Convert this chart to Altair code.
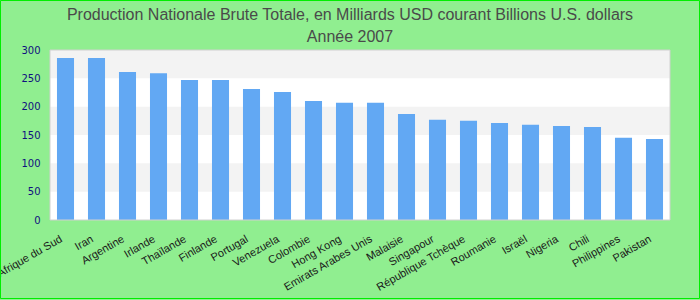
import altair as alt
import pandas as pd

countries = ["Afrique du Sud", "Iran", "Argentine", "Irlande", "Thaïlande", "Finlande",
             "Portugal", "Venezuela", "Colombie", "Hong Kong", "Emirats Arabes Unis",
             "Malaisie", "Singapour", "République Tchèque", "Roumanie", "Israël",
             "Nigeria", "Chili", "Philippines", "Pakistan"]
gnp = [286, 286, 261, 259, 247, 247, 231, 226, 210, 207, 207, 187, 177, 175, 171, 168,
       166, 164, 145, 143]

band_lo = [250, 150, 50]
band_hi = [300, 200, 100]
y_ticks = [0, 50, 100, 150, 200, 250, 300]

title_lines = ["Production Nationale Brute Totale, en Milliards USD courant Billions U.S. dollars",
               "Année 2007"]

df = pd.DataFrame({"pays": countries, "valeur": gnp})
bands = pd.DataFrame({"lo": band_lo, "hi": band_hi})

yscale = alt.Scale(domain=[0, 300], nice=False)
yaxis = alt.Axis(values=y_ticks, grid=False, ticks=False, domain=False,
                 labelFont="DejaVu Sans", labelFontSize=10, labelOverlap=False,
                 labelColor="#10107f", labelPadding=10, title=None)

stripes = alt.Chart(bands).mark_rect(color="#f3f3f3").encode(
    y=alt.Y("lo:Q", scale=yscale, axis=yaxis, title=None),
    y2="hi:Q",
)

bars = alt.Chart(df).mark_bar(color="#62a8f3").encode(
    x=alt.X("pays:N", sort=None, title=None,
            scale=alt.Scale(paddingInner=0.45, paddingOuter=0.225),
            axis=alt.Axis(labelAngle=-30, labelAlign="right", labelBaseline="middle",
                          labelPadding=18, labelOffset=-4, ticks=False, domain=False,
                          labelFont="Liberation Sans", labelFontSize=11,
                          labelColor="#1a1a1a", labelOverlap=False, labelLimit=0)),
    y=alt.Y("valeur:Q", scale=yscale, title=None, axis=yaxis),
)

one = alt.Data(values=[{"k": 1}])

plot_border = alt.Chart(one).mark_rect(
    fillOpacity=0, stroke="#d0d0d0", strokeWidth=1
).encode(
    x=alt.value(0), x2=alt.value(620), y=alt.value(0), y2=alt.value(170),
)

frame = alt.Chart(one).mark_rect(
    fillOpacity=0, stroke="#00ee00", strokeWidth=1
).encode(
    x=alt.value(-49.5), x2=alt.value(649.5),
    y=alt.value(-49.5), y2=alt.value(248.5),
)

chart = alt.layer(stripes, bars, plot_border, frame).properties(
    width=620, height=170,
    padding={"left": 50, "top": 50, "right": 30, "bottom": 80},
    autosize="none",
    background="#90ee90",
    title=alt.TitleParams(text=title_lines, font="Liberation Sans",
                          fontSize=16, fontWeight="normal", color="#4a4a4a",
                          anchor="middle", dx=-10, offset=0, dy=45, lineHeight=22),
).configure_view(fill="white", stroke=None)

chart.save("out.html", embed_options={"renderer": "svg", "actions": False})
